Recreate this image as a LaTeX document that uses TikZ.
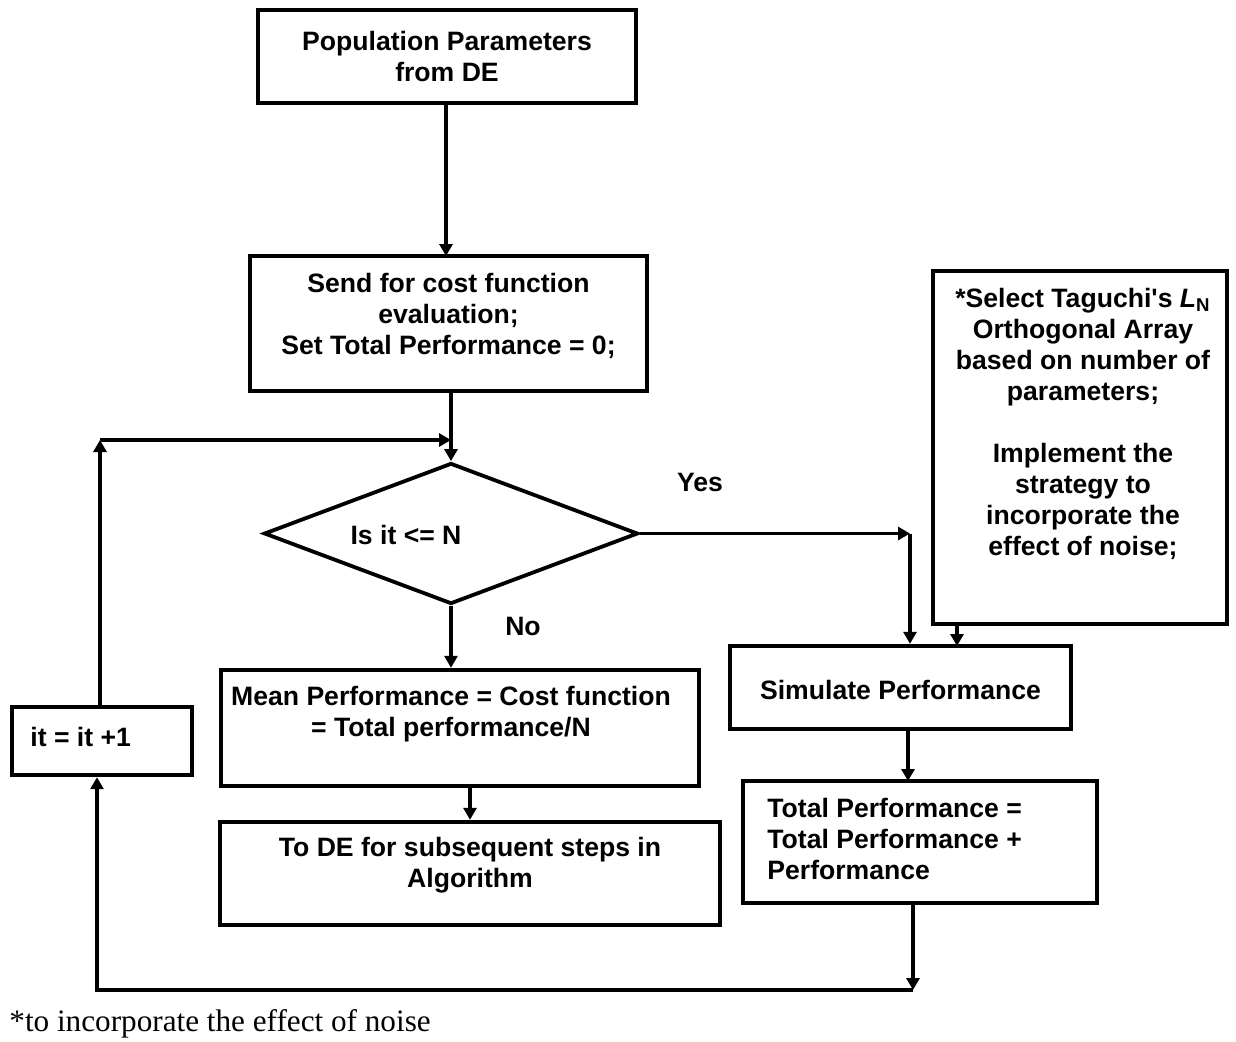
\documentclass[tikz,border=0pt]{standalone}
\usepackage{fontspec}
\setmainfont{Liberation Sans}
\newfontfamily\notefont{Liberation Serif}
\usetikzlibrary{shapes.geometric,arrows.meta}
\begin{document}
\begin{tikzpicture}[x=0.5pt,y=-0.5pt,
  boxnode/.style={draw,line width=2.2pt,inner sep=0pt},
  txt/.style={font=\fontsize{13.3}{15.5}\selectfont\bfseries,align=center,inner sep=0pt},
  conn/.style={line width=1.9pt},
  arr/.style={conn,-{Triangle[length=6pt,width=6.5pt]}}]
\useasboundingbox (0,0) rectangle (1236,1041);
% boxes
\node[boxnode,minimum width=189pt,minimum height=46.5pt] (b1) at (447,56.5) {};
\node[txt] (b1t) at (447,56) {Population Parameters\\from DE};
\node[boxnode,minimum width=198.5pt,minimum height=67.5pt] (b2) at (448.5,323.5) {};
\node[txt] (b2t) at (448.5,315.5) {Send for cost function\\evaluation;\\Set Total Performance = 0;};
\node[draw,line width=1.9pt,diamond,minimum width=187pt,minimum height=70.5pt,inner sep=0pt] (dm) at (451,533.5) {};
\node[txt] (dmt) at (406,535) {Is it <= N};
\node[boxnode,minimum width=147pt,minimum height=176.5pt] (tg) at (1080,447.5) {};
\node[txt] (tgt) at (1083,424) {*Select Taguchi\textquotesingle s \textit{L}\textsubscript{N}\\Orthogonal Array\\based on number of\\parameters;\\[15.5pt]Implement the\\strategy to\\incorporate the\\effect of noise;};
\node[boxnode,minimum width=170.5pt,minimum height=41.5pt] (sim) at (900.5,687.5) {};
\node[txt] (simt) at (900.5,690) {Simulate Performance};
\node[boxnode,minimum width=177pt,minimum height=61pt] (tot) at (920,842) {};
\node[txt,align=left,anchor=west] (tott) at (767,839) {Total Performance =\\Total Performance +\\Performance};
\node[boxnode,minimum width=90pt,minimum height=34pt] (it) at (102,741) {};
\node[txt,anchor=west] (itt) at (30,737) {it = it +1};
\node[boxnode,minimum width=239pt,minimum height=58pt] (mean) at (460,728) {};
\node[txt] (meant) at (451,714.5) {Mean Performance = Cost function\\= Total performance/N};
\node[boxnode,minimum width=250pt,minimum height=51.5pt] (de) at (470,873.5) {};
\node[txt] (det) at (470,865.5) {To DE for subsequent steps in\\Algorithm};
% labels
\node[txt] (yes) at (700,482) {Yes};
\node[txt] (no) at (523,626) {No};
\node[font=\notefont\fontsize{15.6}{18}\selectfont,anchor=west,inner sep=0pt] (note) at (9,1024) {*to incorporate the effect of noise};
% helper coordinates
\coordinate (lp) at (100,440);
\coordinate (lj) at (451,440);
\coordinate (yc) at (910,533.5);
\coordinate (bc) at (913,990);
\coordinate (bl) at (97,990);
% connectors
\draw[arr] (b1.south -| 446,0) -- (446,256);
\draw[conn] (dm.north |- b2.south) -- (lj);
\draw[arr] (lj) -- (dm.north);
\draw[arr] (it.north -| lp) -- (lp);
\draw[arr] (lp) -- (lj);
\draw[arr] (dm.south) -- (dm.south |- mean.north);
\draw[arr] (470,786) -- (de.north -| 470,0);
\draw[arr] (dm.east) -- (yc);
\draw[arr] (yc) -- (yc |- sim.north);
\draw[arr] (tg.south -| 957,0) -- (957,646);
\draw[arr] (sim.south -| 908,0) -- (908,781);
\draw[arr] (tot.south -| bc) -- (bc);
\draw[arr] (bc) -- (bl) -- (bl |- it.south);
\end{tikzpicture}
\end{document}
